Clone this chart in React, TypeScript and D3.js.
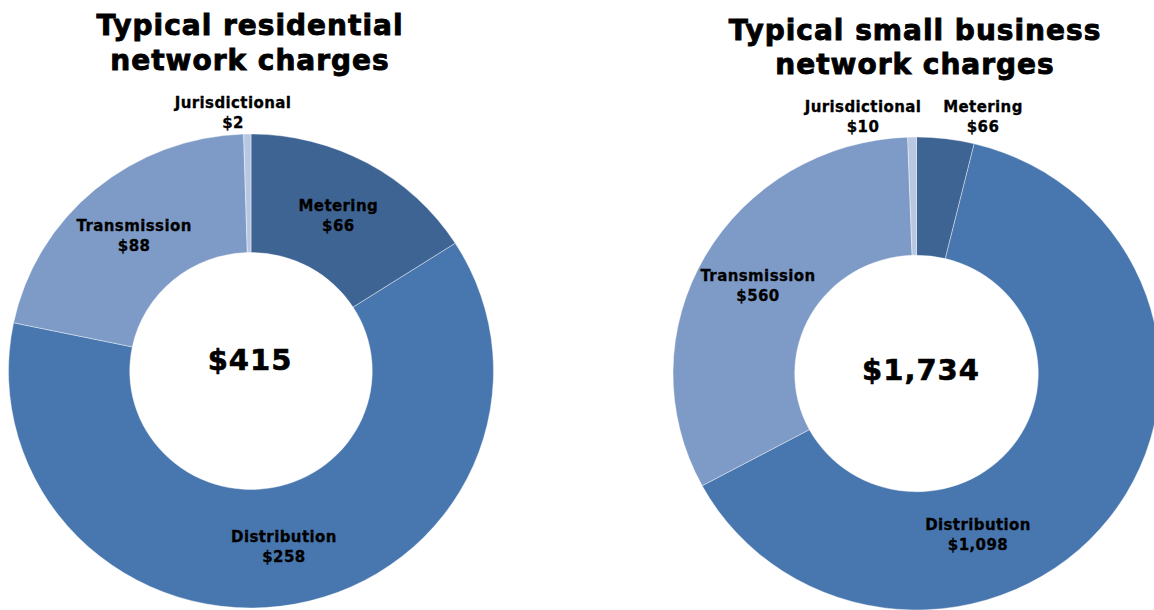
import React from "react";
import * as d3 from "d3";

// ---- data ----
const categories = ["Metering", "Distribution", "Transmission", "Jurisdictional"];
const residentialValues = [66, 258, 88, 2];
const businessValues = [66, 1098, 560, 10];
const residentialTotal = "$415";
const businessTotal = "$1,734";
const residentialTitle = ["Typical residential", "network charges"];
const businessTitle = ["Typical small business", "network charges"];

const colors = ["#3E6494", "#4876AE", "#7E9BC7", "#B8C8E2"];
const fmt = (v: number) => "$" + d3.format(",")(v);

type Layout = {
  cx: number;
  cy: number;
  rx: number;
  ry: number;
  innerFrac: number;
  titleX: number;
  titleY: number[];
  totalY: number;
  totalX: number;
  labelPos: (null | [number, number])[];
};

const leftLayout: Layout = {
  cx: 251,
  cy: 371,
  rx: 242.5,
  ry: 237,
  innerFrac: 0.5,
  titleX: 250,
  titleY: [35, 70],
  totalX: 250,
  totalY: 370,
  labelPos: [null, null, null, [233, 112]],
};

const rightLayout: Layout = {
  cx: 916.5,
  cy: 373.5,
  rx: 243.5,
  ry: 236.5,
  innerFrac: 0.5,
  titleX: 915,
  titleY: [40, 74],
  totalX: 921,
  totalY: 380,
  labelPos: [[983, 116], [978, 534], null, [863, 116]],
};

function Donut({ values, total, title, layout }: { values: number[]; total: string; title: string[]; layout: Layout }) {
  const pie = d3.pie<number>().sort(null).value((d) => d);
  const arcs = pie(values);
  const outer = layout.rx;
  const inner = layout.rx * layout.innerFrac;
  const arc = d3.arc<d3.PieArcDatum<number>>().innerRadius(inner).outerRadius(outer);
  const sy = layout.ry / layout.rx;
  const mid = (inner + outer) / 2;
  return (
    <g>
      <g transform={`translate(${layout.cx},${layout.cy}) scale(1,${sy})`}>
        {arcs.map((a, i) => (
          <path key={i} d={arc(a) || ""} fill={colors[i]} stroke="#ffffff" strokeOpacity={0.5} strokeWidth={0.8} />
        ))}
      </g>
      {title.map((t, i) => (
        <text
          key={i}
          x={layout.titleX}
          y={layout.titleY[i]}
          textAnchor="middle"
          fontSize={28}
          fontWeight="bold"
          letterSpacing={1}
          fill="#000"
          stroke="#000"
          strokeWidth={0.9}
        >
          {t}
        </text>
      ))}
      <text
        x={layout.totalX}
        y={layout.totalY}
        textAnchor="middle"
        fontSize={29}
        fontWeight="bold"
        letterSpacing={1}
        fill="#000"
        stroke="#000"
        strokeWidth={0.6}
      >
        {total}
      </text>
      {arcs.map((a, i) => {
        let x: number, y: number;
        const ov = layout.labelPos[i];
        if (ov) {
          [x, y] = ov;
        } else {
          const ang = (a.startAngle + a.endAngle) / 2;
          x = layout.cx + mid * Math.sin(ang);
          y = layout.cy - mid * Math.cos(ang) * sy;
        }
        return (
          <text
            key={i}
            x={x}
            textAnchor="middle"
            fontSize={15}
            fontWeight="bold"
            letterSpacing={0.4}
            fill="#000"
            stroke="#000"
            strokeWidth={0.3}
          >
            <tspan x={x} y={y - 4}>{categories[i]}</tspan>
            <tspan x={x} y={y + 16}>{fmt(values[i])}</tspan>
          </text>
        );
      })}
    </g>
  );
}

export default function App() {
  return (
    <svg
      width={1154}
      height={610}
      style={{ position: "absolute", left: 0, top: 0, fontFamily: "'DejaVu Sans', Verdana, sans-serif", background: "#fff" }}
    >
      <Donut values={residentialValues} total={residentialTotal} title={residentialTitle} layout={leftLayout} />
      <Donut values={businessValues} total={businessTotal} title={businessTitle} layout={rightLayout} />
    </svg>
  );
}
